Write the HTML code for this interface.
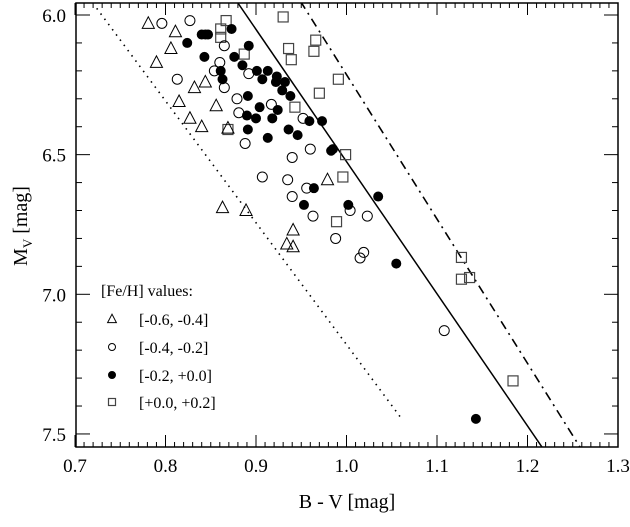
<!DOCTYPE html>
<html><head><meta charset="utf-8"><style>
body{margin:0;background:#fff}
svg text{font-family:"Liberation Serif",serif;fill:#000}
</style></head><body>
<svg id="c" width="630" height="522" xmlns="http://www.w3.org/2000/svg"></svg>
<script>
const xTicks=[0.7,0.8,0.9,1.0,1.1,1.2,1.3];
const xTickLabels=["0.7","0.8","0.9","1.0","1.1","1.2","1.3"];
const yTicks=[6.0,6.5,7.0,7.5];
const yTickLabels=["6.0","6.5","7.0","7.5"];
const triBV=[.781,.811,.806,.790,.844,.832,.815,.856,.827,.840,.869,.863,.889,.979,.941,.934,.941];
const triMV=[6.03,6.06,6.12,6.17,6.24,6.26,6.31,6.325,6.37,6.40,6.405,6.69,6.70,6.59,6.77,6.82,6.83];
const circBV=[.796,.827,.865,.860,.854,.813,.892,.865,.879,.881,.917,.952,.888,.960,.940,.907,.935,.956,.940,.963,1.004,1.023,.988,1.019,1.015,1.108];
const circMV=[6.03,6.02,6.11,6.17,6.20,6.23,6.21,6.26,6.30,6.35,6.32,6.37,6.46,6.48,6.51,6.58,6.59,6.62,6.65,6.72,6.70,6.72,6.80,6.85,6.87,7.13];
const fillBV=[.873,.824,.840,.844,.847,.892,.843,.876,.885,.861,.863,.901,.913,.907,.923,.922,.932,.929,.938,.891,.904,.924,.890,.900,.918,.959,.973,.891,.936,.946,.913,.983,.985,.964,.953,1.002,1.035,1.055,1.143];
const fillMV=[6.05,6.10,6.07,6.07,6.07,6.11,6.15,6.15,6.18,6.20,6.23,6.20,6.20,6.23,6.22,6.24,6.24,6.27,6.29,6.29,6.33,6.34,6.36,6.37,6.37,6.38,6.38,6.41,6.41,6.43,6.44,6.486,6.48,6.62,6.68,6.68,6.65,6.89,7.446];
const sqBV=[.867,.861,.861,.930,.887,.966,.936,.964,.939,.991,.970,.943,.869,.999,.996,.989,1.127,1.127,1.136,1.184];
const sqMV=[6.02,6.05,6.08,6.007,6.14,6.09,6.12,6.13,6.16,6.23,6.28,6.33,6.41,6.50,6.58,6.74,6.868,6.946,6.94,7.31];
const dottedBV=[0.724,1.061], dottedMV=[5.976,7.446];
const solidBV=[0.880,1.216], solidMV=[5.957,7.547];
const dashdotBV=[0.949,1.258], dashdotMV=[5.95,7.547];

const L=76,R=618,T=3,B=447;
const X=v=>75+(v-0.7)*905;
const Y=v=>15+(v-6.0)*279.3;
const svg=document.getElementById('c');
const NS='http://www.w3.org/2000/svg';
function mk(tag,at,parent){const e=document.createElementNS(NS,tag);for(const k in at)e.setAttribute(k,at[k]);(parent||svg).appendChild(e);return e;}

const clip=mk('clipPath',{id:'pc'});mk('rect',{x:L,y:T,width:R-L,height:B-T},clip);
const plot=mk('g',{'clip-path':'url(#pc)'});



function line(bv,mv,dash,name){
  const e=mk('line',{x1:X(bv[0]),y1:Y(mv[0]),x2:X(bv[1]),y2:Y(mv[1]),stroke:'#000','stroke-width':dash?1.6:1.5,'stroke-dasharray':dash||'none'},plot);
  
  
}
line(dottedBV,dottedMV,'1.5 5','dotted-line');
line(solidBV,solidMV,null,'solid-line');
line(dashdotBV,dashdotMV,'9 5 2 5','dash-dot-line');

function tri(x,y,s,p){return mk('polygon',{points:`${x},${y-s*0.6} ${x-s*0.55},${y+s*0.45} ${x+s*0.55},${y+s*0.45}`,fill:'none',stroke:'#000','stroke-width':1},p);}
function circ(x,y,r,f,p){return mk('circle',{cx:x,cy:y,r:r,fill:f?'#000':'none',stroke:'#000','stroke-width':1},p);}
function sq(x,y,s,p){return mk('rect',{x:x-s/2,y:y-s/2,width:s,height:s,fill:'none',stroke:'#444','stroke-width':1.2},p);}

for(let i=0;i<sqBV.length;i++){const e=sq(X(sqBV[i]),Y(sqMV[i]),10,plot);
  
  }
for(let i=0;i<triBV.length;i++){const e=tri(X(triBV[i]),Y(triMV[i]),11,plot);
  
  }
for(let i=0;i<circBV.length;i++){const e=circ(X(circBV[i]),Y(circMV[i]),5,false,plot);
  
  }
for(let i=0;i<fillBV.length;i++){const e=circ(X(fillBV[i]),Y(fillMV[i]),4.5,true,plot);
  
  }

// axes box
const box=mk('rect',{x:L,y:T,width:R-L,height:B-T,fill:'none',stroke:'#000','stroke-width':1.5});


// x minor ticks
for(let k=0;k<=60;k++){const v=0.7+k*0.01,x=X(v);if(x<L-1||x>R+1)continue;const len=(k%10===0)?12:5;
  mk('line',{x1:x,y1:B,x2:x,y2:B-len,stroke:'#000','stroke-width':1});
  mk('line',{x1:x,y1:T,x2:x,y2:T+len,stroke:'#000','stroke-width':1});}
for(let k=0;k<=15;k++){const v=6.0+k*0.1,y=Y(v);if(y>B||y<T)continue;const len=(k%5===0)?14:6;
  mk('line',{x1:L,y1:y,x2:L+len,y2:y,stroke:'#000','stroke-width':1});
  mk('line',{x1:R,y1:y,x2:R-len,y2:y,stroke:'#000','stroke-width':1});}
// also minor above 6.0
mk('line',{x1:L,y1:Y(5.97),x2:L,y2:Y(5.97),stroke:'#000'});
xTicks.forEach((v,i)=>{const t=mk('text',{x:X(v),y:472,'font-size':19,'text-anchor':'middle'});t.textContent=xTickLabels[i];
  
  });
yTicks.forEach((v,i)=>{const t=mk('text',{x:66,y:Y(v)+7,'font-size':19,'text-anchor':'end'});t.textContent=yTickLabels[i];
  
  });
const xt=mk('text',{x:347,y:508,'font-size':20,'text-anchor':'middle'});xt.textContent='B - V [mag]';


const yt=mk('text',{x:0,y:0,'font-size':20,'text-anchor':'middle',transform:'translate(27,226) rotate(-90)'});
yt.innerHTML='M<tspan font-size="13" dy="5">V</tspan><tspan dy="-5"> [mag]</tspan>';



// legend
const lg=mk('g',{});


const lt=mk('text',{x:101,y:296,'font-size':16},lg);lt.textContent='[Fe/H] values:';
const labels=['[-0.6, -0.4]','[-0.4, -0.2]','[-0.2, +0.0]','[+0.0, +0.2]'];
const ly=[319,347,375,402];
labels.forEach((s,i)=>{
  const g=mk('g',{},lg);
  
  
  if(i===0)tri(112,ly[i],8,g);else if(i===1)circ(112,ly[i],3.5,false,g);else if(i===2)circ(112,ly[i],3.5,true,g);else sq(112,ly[i],7,g);
  const t=mk('text',{x:139,y:ly[i]+6,'font-size':16},g);t.textContent=s;
});
</script>
</body></html>
